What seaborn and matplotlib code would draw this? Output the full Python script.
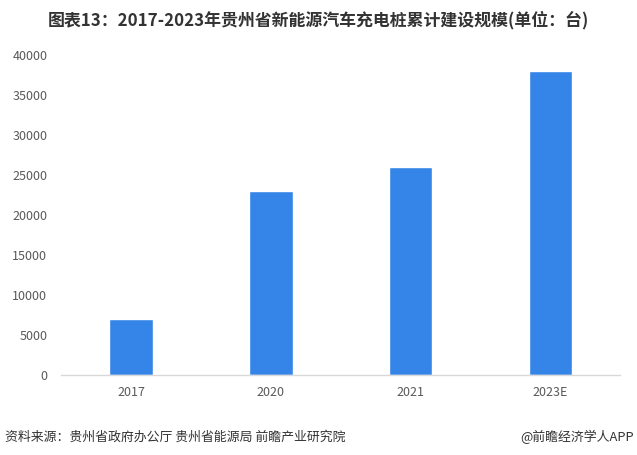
import matplotlib
matplotlib.use("Agg")
import matplotlib.pyplot as plt
import seaborn as sns
import pandas as pd

# data
years = ["2017", "2020", "2021", "2023E"]
piles = [7000, 23000, 26000, 38000]

sns.set_style("white")
plt.rcParams["font.family"] = ["Noto Sans CJK SC", "DejaVu Sans"]

df = pd.DataFrame({"year": years, "piles": piles})

fig = plt.figure(figsize=(6.37, 4.55), dpi=100)
ax = fig.add_axes([0.096, 0.176, 0.878, 0.703])

sns.barplot(data=df, x="year", y="piles", color="#3585E8", width=0.31,
            saturation=1, ax=ax)

ax.set_ylim(0, 40000)
ax.set_yticks(range(0, 40001, 5000))
ax.set_xlim(-0.5, 3.5)
ax.set_xlabel("")
ax.set_ylabel("")
ax.tick_params(axis="both", length=0, labelsize=9, colors="#595959")
ax.tick_params(axis="y", pad=10)
ax.tick_params(axis="x", pad=8)

for side in ["top", "right", "left"]:
    ax.spines[side].set_visible(False)
ax.spines["bottom"].set_color("#d9d9d9")
ax.spines["bottom"].set_linewidth(1)

fig.text(0.5, 0.955, "图表13：2017-2023年贵州省新能源汽车充电桩累计建设规模(单位：台)",
         ha="center", va="center", fontsize=12.2, fontweight="bold", color="#333333")
fig.text(0.008, 0.04, "资料来源：贵州省政府办公厅 贵州省能源局 前瞻产业研究院",
         ha="left", va="center", fontsize=9.3, color="#333333")
fig.text(0.995, 0.04, "@前瞻经济学人APP",
         ha="right", va="center", fontsize=9.3, color="#333333")

fig.savefig("out.png", dpi=100)
